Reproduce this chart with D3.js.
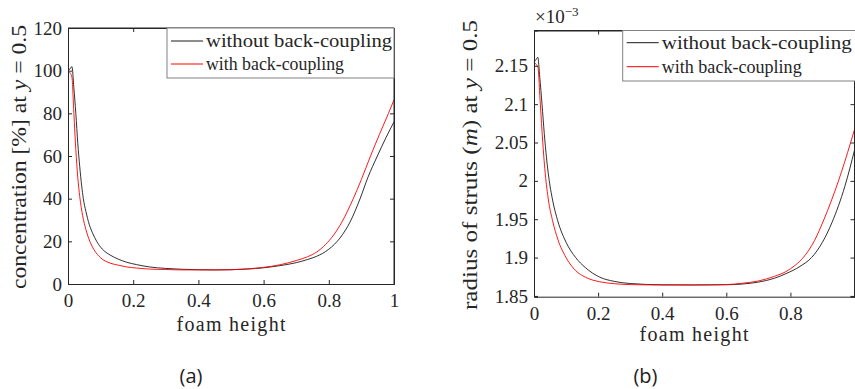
<!DOCTYPE html>
<html>
<head>
<meta charset="utf-8">
<script src="https://cdn.jsdelivr.net/npm/d3@7/dist/d3.min.js"></script>
<style>
  body { margin: 0; background: #fff; }
  svg { display: block; }
</style>
</head>
<body>
<svg id="fig" width="855" height="389"></svg>
<script>
// panel (a): concentration [%] vs foam height
let xA_without = [0, 0.006, 0.012, 0.018, 0.024, 0.03, 0.036, 0.042, 0.047, 0.055, 0.065, 0.075, 0.088, 0.105, 0.129, 0.155, 0.18, 0.21, 0.25, 0.3, 0.35, 0.4, 0.45, 0.5, 0.55, 0.6, 0.65, 0.7, 0.735, 0.763, 0.8, 0.834, 0.865, 0.896, 0.92, 0.949, 0.975, 1];
let concWithout = [100, 100.8, 101.9, 92, 80, 66, 55, 46, 40, 34, 28, 24, 20, 16.4, 13.6, 11.6, 10.2, 9.1, 8.0, 7.3, 6.9, 6.7, 6.6, 6.7, 7.0, 7.6, 8.6, 10.0, 11.5, 13.0, 16.3, 21.5, 29, 40, 50, 60, 68.5, 76];
let xA_with = [0, 0.006, 0.012, 0.018, 0.024, 0.03, 0.036, 0.045, 0.055, 0.067, 0.08, 0.1, 0.129, 0.155, 0.18, 0.21, 0.25, 0.3, 0.35, 0.4, 0.45, 0.5, 0.55, 0.6, 0.65, 0.7, 0.735, 0.763, 0.79, 0.815, 0.84, 0.875, 0.9, 0.928, 0.955, 0.983, 1];
let concWith = [100, 99, 97, 80, 63, 50, 41, 32, 25.5, 20, 16, 12.3, 9.8, 8.8, 8.0, 7.5, 7.0, 6.8, 6.6, 6.6, 6.6, 6.7, 7.1, 7.8, 9.0, 11.0, 12.8, 15, 18.5, 23, 29, 40, 49, 60, 70, 80, 86.3];

// panel (b): radius of struts (x 1e-3 m) vs foam height
let xB_without = [0, 0.006, 0.012, 0.018, 0.025, 0.032, 0.039, 0.046, 0.058, 0.074, 0.1, 0.13, 0.16, 0.205, 0.25, 0.3, 0.4, 0.5, 0.6, 0.65, 0.7, 0.75, 0.786, 0.83, 0.866, 0.9, 0.93, 0.97, 1];
let radiusWithout = [2.155, 2.158, 2.161, 2.135, 2.1, 2.062, 2.03, 2.005, 1.975, 1.948, 1.92, 1.9, 1.887, 1.8745, 1.869, 1.8662, 1.8645, 1.8643, 1.8646, 1.8655, 1.868, 1.873, 1.879, 1.8885, 1.9, 1.92, 1.946, 1.993, 2.04];
let xB_with = [0, 0.006, 0.012, 0.019, 0.025, 0.03, 0.035, 0.045, 0.058, 0.075, 0.1, 0.13, 0.16, 0.205, 0.25, 0.3, 0.4, 0.5, 0.6, 0.65, 0.7, 0.75, 0.786, 0.815, 0.84, 0.875, 0.905, 0.95, 0.988, 1];
let radiusWith = [2.155, 2.152, 2.149, 2.105, 2.065, 2.035, 2.01, 1.975, 1.948, 1.923, 1.9, 1.883, 1.8745, 1.8685, 1.866, 1.8648, 1.8643, 1.8643, 1.8648, 1.8665, 1.8695, 1.8755, 1.8817, 1.89, 1.9, 1.922, 1.95, 2.0, 2.05, 2.067];

let xTicksA = [0, 0.2, 0.4, 0.6, 0.8, 1];
let xTicksB = [0, 0.2, 0.4, 0.6, 0.8];
let yTicksA = [0, 20, 40, 60, 80, 100, 120];
let yTicksB = [1.85, 1.9, 1.95, 2, 2.05, 2.1, 2.15];
let seriesNames = ["without back-coupling", "with back-coupling"];
let seriesColors = ["#1a1a1a", "#ff0000"];

let serif = "'Liberation Serif', 'Times New Roman', serif";
let svg = d3.select("#fig");
let tickLen = 4;

function serifText(sel, size) {
	return sel.style("font-family", serif).style("font-size", size + "px").attr("fill", "#262626");
}

function drawPanel(p) {
	let x = d3.scaleLinear().domain(p.xDomain).range([p.left, p.right]);
	let y = d3.scaleLinear().domain(p.yDomain).range([p.bottom, p.top]);
	let g = svg.append("g");

	// curves
	let line = d3.line().curve(d3.curveMonotoneX);
	p.series.forEach((s, i) => {
		let pts = s.xs.map((v, k) => [x(v), y(s.ys[k])]);
		g.append("path")
			.attr("d", line(pts))
			.attr("fill", "none")
			.attr("stroke", seriesColors[i])
			.attr("stroke-width", 0.9);
	});

	// axes, ticks pointing inward on all four sides
	let bottomAx = d3.axisBottom(x).tickValues(p.xTicks).tickSize(-tickLen).tickPadding(10).tickFormat(d3.format("~g"));
	let topAx = d3.axisTop(x).tickValues(p.xTicks).tickSize(-tickLen).tickFormat("");
	let leftAx = d3.axisLeft(y).tickValues(p.yTicks).tickSize(-tickLen).tickPadding(6).tickFormat(p.yFormat);
	let rightAx = d3.axisRight(y).tickValues(p.yTicks).tickSize(-tickLen).tickFormat("");

	let axes = [
		[bottomAx, `translate(0,${p.bottom})`],
		[topAx, `translate(0,${p.top})`],
		[leftAx, `translate(${p.left},0)`],
		[rightAx, `translate(${p.right},0)`]
	];
	axes.forEach(a => {
		let ag = g.append("g").attr("transform", a[1]).call(a[0]);
		ag.select(".domain").attr("stroke", "#262626").attr("stroke-width", 1);
		ag.selectAll(".tick line").attr("stroke", "#262626");
		serifText(ag.selectAll(".tick text"), 19);
	});
	g.append("path")
		.attr("d", `M${p.left},${p.top}H${p.right}V${p.bottom}`)
		.attr("fill", "none").attr("stroke", "#262626");

	// legend
	let lg = g.append("g");
	lg.append("rect")
		.attr("x", p.legend.x).attr("y", p.top)
		.attr("width", p.legend.w).attr("height", p.legend.h)
		.attr("fill", "#fff").attr("stroke", "#808080").attr("stroke-width", 1);
	seriesNames.forEach((name, i) => {
		let ly = p.legend.rows[i];
		lg.append("line")
			.attr("x1", p.legend.x + 4).attr("x2", p.legend.x + 36)
			.attr("y1", ly).attr("y2", ly)
			.attr("stroke", seriesColors[i]).attr("stroke-width", 1);
		serifText(lg.append("text"), 19)
			.attr("x", p.legend.x + 39).attr("y", ly + 6)
			.attr("textLength", p.legend.lens[i])
			.attr("lengthAdjust", "spacingAndGlyphs")
			.text(name);
	});

	// x title
	serifText(g.append("text"), 20)
		.attr("x", p.xTitle.x).attr("y", p.xTitle.y)
		.attr("text-anchor", "middle")
		.attr("textLength", 109)
		.text("foam height");

	// y title
	let yt = serifText(g.append("text"), 20)
		.attr("transform", `translate(${p.yTitle.x},${p.yTitle.y}) rotate(-90)`)
		.attr("text-anchor", "middle")
		.attr("textLength", p.yTitle.len)
		.attr("lengthAdjust", "spacingAndGlyphs");
	p.yTitle.parts.forEach(pt => {
		yt.append("tspan").attr("font-style", pt[1] ? "italic" : null).text(pt[0]);
	});

	// caption
	g.append("text")
		.style("font-family", "'Open Sans', sans-serif").style("font-size", "20px")
		.attr("fill", "#222")
		.attr("x", p.caption.x).attr("y", 383)
		.attr("text-anchor", "middle")
		.text(p.caption.text);
}

drawPanel({
	left: 68, right: 394, top: 28, bottom: 284,
	xDomain: [0, 1], yDomain: [0, 120],
	xTicks: xTicksA, yTicks: yTicksA, yFormat: d3.format("d"),
	series: [{xs: xA_without, ys: concWithout}, {xs: xA_with, ys: concWith}],
	legend: {x: 167, w: 227, h: 50, rows: [41, 64], lens: [186, 138]},
	xTitle: {x: 231, y: 331},
	yTitle: {x: 26, y: 157, len: 264, parts: [["concentration [%] at ", false], ["y", true], [" = 0.5", false]]},
	caption: {x: 191, text: "(a)"}
});

drawPanel({
	left: 534, right: 854.5, top: 30.5, bottom: 296.7,
	xDomain: [0, 1], yDomain: [1.849, 2.196],
	xTicks: xTicksB, yTicks: yTicksB, yFormat: d3.format("~g"),
	series: [{xs: xB_without, ys: radiusWithout}, {xs: xB_with, ys: radiusWith}],
	legend: {x: 622.7, w: 235, h: 50.5, rows: [42.7, 66.7], lens: [190, 140]},
	xTitle: {x: 694, y: 341},
	yTitle: {x: 477, y: 165, len: 290, parts: [["radius of struts (", false], ["m", true], [") at ", false], ["y", true], [" = 0.5", false]]},
	caption: {x: 645.5, text: "(b)"}
});

// exponent label of panel (b)
let ex = serifText(svg.append("text"), 19).attr("x", 535).attr("y", 23);
ex.append("tspan").text("\u00d710");
ex.append("tspan").attr("dy", -7).style("font-size", "13px").text("\u22123");
</script>
</body>
</html>
